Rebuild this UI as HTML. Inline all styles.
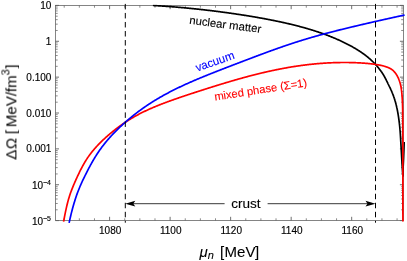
<!DOCTYPE html>
<html><head><meta charset="utf-8"><title>plot</title>
<style>
html,body{margin:0;padding:0;background:#fff;}
body{width:407px;height:261px;overflow:hidden;font-family:"Liberation Sans",sans-serif;}
svg{display:block;font-family:"Liberation Sans",sans-serif;}
</style></head><body>
<svg width="407" height="261" viewBox="0 0 407 261">
<rect width="407" height="261" fill="#fff"/>
<defs><clipPath id="c"><rect x="54.9" y="4.6000000000000005" width="350.70000000000005" height="218.79999999999998"/></clipPath></defs>
<rect x="55.4" y="5.4" width="348.1" height="215.2" fill="none" stroke="#666" stroke-width="0.8"/>
<path d="M55.4,5.40h3.6M403.5,5.40h-3.6M55.4,41.27h3.6M403.5,41.27h-3.6M55.4,77.13h3.6M403.5,77.13h-3.6M55.4,113.00h3.6M403.5,113.00h-3.6M55.4,148.87h3.6M403.5,148.87h-3.6M55.4,184.73h3.6M403.5,184.73h-3.6M55.4,220.60h3.6M403.5,220.60h-3.6M109.60,220.6v-3.8M109.60,5.4v3.8M170.12,220.6v-3.8M170.12,5.4v3.8M230.64,220.6v-3.8M230.64,5.4v3.8M291.16,220.6v-3.8M291.16,5.4v3.8M351.68,220.6v-3.8M351.68,5.4v3.8" fill="none" stroke="#606060" stroke-width="0.9"/>
<path d="M55.4,30.47h2.3M403.5,30.47h-2.3M55.4,24.15h2.3M403.5,24.15h-2.3M55.4,19.67h2.3M403.5,19.67h-2.3M55.4,16.20h2.3M403.5,16.20h-2.3M55.4,13.36h2.3M403.5,13.36h-2.3M55.4,10.96h2.3M403.5,10.96h-2.3M55.4,8.88h2.3M403.5,8.88h-2.3M55.4,7.04h2.3M403.5,7.04h-2.3M55.4,66.34h2.3M403.5,66.34h-2.3M55.4,60.02h2.3M403.5,60.02h-2.3M55.4,55.54h2.3M403.5,55.54h-2.3M55.4,52.06h2.3M403.5,52.06h-2.3M55.4,49.22h2.3M403.5,49.22h-2.3M55.4,46.82h2.3M403.5,46.82h-2.3M55.4,44.74h2.3M403.5,44.74h-2.3M55.4,42.91h2.3M403.5,42.91h-2.3M55.4,102.20h2.3M403.5,102.20h-2.3M55.4,95.89h2.3M403.5,95.89h-2.3M55.4,91.41h2.3M403.5,91.41h-2.3M55.4,87.93h2.3M403.5,87.93h-2.3M55.4,85.09h2.3M403.5,85.09h-2.3M55.4,82.69h2.3M403.5,82.69h-2.3M55.4,80.61h2.3M403.5,80.61h-2.3M55.4,78.77h2.3M403.5,78.77h-2.3M55.4,138.07h2.3M403.5,138.07h-2.3M55.4,131.75h2.3M403.5,131.75h-2.3M55.4,127.27h2.3M403.5,127.27h-2.3M55.4,123.80h2.3M403.5,123.80h-2.3M55.4,120.96h2.3M403.5,120.96h-2.3M55.4,118.56h2.3M403.5,118.56h-2.3M55.4,116.48h2.3M403.5,116.48h-2.3M55.4,114.64h2.3M403.5,114.64h-2.3M55.4,173.94h2.3M403.5,173.94h-2.3M55.4,167.62h2.3M403.5,167.62h-2.3M55.4,163.14h2.3M403.5,163.14h-2.3M55.4,159.66h2.3M403.5,159.66h-2.3M55.4,156.82h2.3M403.5,156.82h-2.3M55.4,154.42h2.3M403.5,154.42h-2.3M55.4,152.34h2.3M403.5,152.34h-2.3M55.4,150.51h2.3M403.5,150.51h-2.3M55.4,209.80h2.3M403.5,209.80h-2.3M55.4,203.49h2.3M403.5,203.49h-2.3M55.4,199.01h2.3M403.5,199.01h-2.3M55.4,195.53h2.3M403.5,195.53h-2.3M55.4,192.69h2.3M403.5,192.69h-2.3M55.4,190.29h2.3M403.5,190.29h-2.3M55.4,188.21h2.3M403.5,188.21h-2.3M55.4,186.37h2.3M403.5,186.37h-2.3M64.21,220.6v-2.3M64.21,5.4v2.3M79.34,220.6v-2.3M79.34,5.4v2.3M94.47,220.6v-2.3M94.47,5.4v2.3M124.73,220.6v-2.3M124.73,5.4v2.3M139.86,220.6v-2.3M139.86,5.4v2.3M154.99,220.6v-2.3M154.99,5.4v2.3M185.25,220.6v-2.3M185.25,5.4v2.3M200.38,220.6v-2.3M200.38,5.4v2.3M215.51,220.6v-2.3M215.51,5.4v2.3M245.77,220.6v-2.3M245.77,5.4v2.3M260.90,220.6v-2.3M260.90,5.4v2.3M276.03,220.6v-2.3M276.03,5.4v2.3M306.29,220.6v-2.3M306.29,5.4v2.3M321.42,220.6v-2.3M321.42,5.4v2.3M336.55,220.6v-2.3M336.55,5.4v2.3M366.81,220.6v-2.3M366.81,5.4v2.3M381.94,220.6v-2.3M381.94,5.4v2.3M397.07,220.6v-2.3M397.07,5.4v2.3" fill="none" stroke="#666" stroke-width="0.75"/>
<g clip-path="url(#c)" fill="none" stroke-width="1.7" stroke-linejoin="round" stroke-linecap="butt">
<path d="M152.90,5.46 L153.40,5.49 L153.90,5.52 L154.40,5.55 L154.90,5.58 L155.40,5.61 L155.90,5.64 L156.40,5.67 L156.90,5.70 L157.40,5.73 L157.90,5.76 L158.40,5.79 L158.90,5.82 L159.40,5.85 L159.90,5.88 L160.40,5.92 L160.90,5.95 L161.40,5.98 L161.90,6.02 L162.40,6.05 L162.90,6.08 L163.40,6.12 L163.90,6.15 L164.40,6.19 L164.90,6.22 L165.40,6.26 L165.90,6.29 L166.40,6.33 L166.90,6.36 L167.40,6.40 L167.90,6.44 L168.40,6.48 L168.90,6.51 L169.40,6.55 L169.90,6.59 L170.40,6.63 L170.90,6.66 L171.40,6.70 L171.90,6.74 L172.40,6.78 L172.90,6.82 L173.40,6.86 L173.90,6.90 L174.40,6.94 L174.90,6.98 L175.40,7.02 L175.90,7.06 L176.40,7.11 L176.90,7.15 L177.40,7.19 L177.90,7.23 L178.40,7.28 L178.90,7.32 L179.40,7.36 L179.90,7.41 L180.40,7.45 L180.90,7.49 L181.40,7.54 L181.90,7.58 L182.40,7.63 L182.90,7.67 L183.40,7.72 L183.90,7.76 L184.40,7.81 L184.90,7.86 L185.40,7.90 L185.90,7.95 L186.40,8.00 L186.90,8.04 L187.40,8.09 L187.90,8.14 L188.40,8.19 L188.90,8.24 L189.40,8.29 L189.90,8.34 L190.40,8.38 L190.90,8.43 L191.40,8.48 L191.90,8.53 L192.40,8.59 L192.90,8.64 L193.40,8.69 L193.90,8.74 L194.40,8.79 L194.90,8.84 L195.40,8.89 L195.90,8.95 L196.40,9.00 L196.90,9.05 L197.40,9.11 L197.90,9.16 L198.40,9.21 L198.90,9.27 L199.40,9.32 L199.90,9.38 L200.40,9.43 L200.90,9.49 L201.40,9.54 L201.90,9.60 L202.40,9.65 L202.90,9.71 L203.40,9.76 L203.90,9.82 L204.40,9.88 L204.90,9.94 L205.40,9.99 L205.90,10.05 L206.40,10.11 L206.90,10.17 L207.40,10.23 L207.90,10.28 L208.40,10.34 L208.90,10.40 L209.40,10.46 L209.90,10.52 L210.40,10.58 L210.90,10.64 L211.40,10.70 L211.90,10.76 L212.40,10.82 L212.90,10.89 L213.40,10.95 L213.90,11.01 L214.40,11.07 L214.90,11.13 L215.40,11.20 L215.90,11.26 L216.40,11.32 L216.90,11.39 L217.40,11.45 L217.90,11.51 L218.40,11.58 L218.90,11.64 L219.40,11.71 L219.90,11.77 L220.40,11.84 L220.90,11.90 L221.40,11.97 L221.90,12.04 L222.40,12.10 L222.90,12.17 L223.40,12.24 L223.90,12.30 L224.40,12.37 L224.90,12.44 L225.40,12.51 L225.90,12.57 L226.40,12.64 L226.90,12.71 L227.40,12.78 L227.90,12.85 L228.40,12.92 L228.90,12.99 L229.40,13.06 L229.90,13.13 L230.40,13.20 L230.90,13.27 L231.40,13.34 L231.90,13.41 L232.40,13.48 L232.90,13.56 L233.40,13.63 L233.90,13.70 L234.40,13.77 L234.90,13.85 L235.40,13.92 L235.90,13.99 L236.40,14.07 L236.90,14.14 L237.40,14.22 L237.90,14.29 L238.40,14.37 L238.90,14.44 L239.40,14.52 L239.90,14.59 L240.40,14.67 L240.90,14.75 L241.40,14.82 L241.90,14.90 L242.40,14.98 L242.90,15.06 L243.40,15.13 L243.90,15.21 L244.40,15.29 L244.90,15.37 L245.40,15.45 L245.90,15.53 L246.40,15.61 L246.90,15.69 L247.40,15.77 L247.90,15.85 L248.40,15.93 L248.90,16.01 L249.40,16.10 L249.90,16.18 L250.40,16.26 L250.90,16.34 L251.40,16.43 L251.90,16.51 L252.40,16.59 L252.90,16.68 L253.40,16.76 L253.90,16.85 L254.40,16.93 L254.90,17.02 L255.40,17.10 L255.90,17.19 L256.40,17.28 L256.90,17.36 L257.40,17.45 L257.90,17.54 L258.40,17.63 L258.90,17.72 L259.40,17.80 L259.90,17.89 L260.40,17.98 L260.90,18.07 L261.40,18.16 L261.90,18.25 L262.40,18.35 L262.90,18.44 L263.40,18.53 L263.90,18.62 L264.40,18.71 L264.90,18.81 L265.40,18.90 L265.90,18.99 L266.40,19.09 L266.90,19.18 L267.40,19.28 L267.90,19.37 L268.40,19.47 L268.90,19.57 L269.40,19.66 L269.90,19.76 L270.40,19.86 L270.90,19.96 L271.40,20.05 L271.90,20.15 L272.40,20.25 L272.90,20.35 L273.40,20.45 L273.90,20.55 L274.40,20.65 L274.90,20.76 L275.40,20.86 L275.90,20.96 L276.40,21.06 L276.90,21.17 L277.40,21.27 L277.90,21.38 L278.40,21.48 L278.90,21.59 L279.40,21.69 L279.90,21.80 L280.40,21.91 L280.90,22.02 L281.40,22.12 L281.90,22.23 L282.40,22.34 L282.90,22.45 L283.40,22.56 L283.90,22.67 L284.40,22.79 L284.90,22.90 L285.40,23.01 L285.90,23.12 L286.40,23.24 L286.90,23.35 L287.40,23.47 L287.90,23.58 L288.40,23.70 L288.90,23.82 L289.40,23.94 L289.90,24.05 L290.40,24.17 L290.90,24.29 L291.40,24.41 L291.90,24.53 L292.40,24.66 L292.90,24.78 L293.40,24.90 L293.90,25.02 L294.40,25.15 L294.90,25.27 L295.40,25.40 L295.90,25.53 L296.40,25.65 L296.90,25.78 L297.40,25.91 L297.90,26.04 L298.40,26.17 L298.90,26.30 L299.40,26.43 L299.90,26.56 L300.40,26.70 L300.90,26.83 L301.40,26.97 L301.90,27.10 L302.40,27.24 L302.90,27.38 L303.40,27.51 L303.90,27.65 L304.40,27.79 L304.90,27.93 L305.40,28.08 L305.90,28.22 L306.40,28.36 L306.90,28.51 L307.40,28.65 L307.90,28.80 L308.40,28.95 L308.90,29.09 L309.40,29.24 L309.90,29.39 L310.40,29.54 L310.90,29.70 L311.40,29.85 L311.90,30.00 L312.40,30.16 L312.90,30.31 L313.40,30.47 L313.90,30.63 L314.40,30.79 L314.90,30.95 L315.40,31.11 L315.90,31.27 L316.40,31.44 L316.90,31.60 L317.40,31.77 L317.90,31.93 L318.40,32.10 L318.90,32.27 L319.40,32.44 L319.90,32.61 L320.40,32.79 L320.90,32.96 L321.40,33.13 L321.90,33.31 L322.40,33.49 L322.90,33.67 L323.40,33.85 L323.90,34.03 L324.40,34.21 L324.90,34.39 L325.40,34.58 L325.90,34.76 L326.40,34.95 L326.90,35.14 L327.40,35.33 L327.90,35.52 L328.40,35.71 L328.90,35.91 L329.40,36.10 L329.90,36.30 L330.40,36.50 L330.90,36.70 L331.40,36.90 L331.90,37.10 L332.40,37.30 L332.90,37.51 L333.40,37.72 L333.90,37.92 L334.40,38.13 L334.90,38.34 L335.40,38.56 L335.90,38.77 L336.40,38.99 L336.90,39.20 L337.40,39.42 L337.90,39.64 L338.40,39.87 L338.90,40.09 L339.40,40.31 L339.90,40.54 L340.40,40.77 L340.90,41.00 L341.40,41.23 L341.90,41.47 L342.40,41.70 L342.90,41.94 L343.40,42.18 L343.90,42.42 L344.40,42.66 L344.90,42.91 L345.40,43.16 L345.90,43.40 L346.40,43.66 L346.90,43.91 L347.40,44.17 L347.90,44.42 L348.40,44.68 L348.90,44.94 L349.40,45.21 L349.90,45.47 L350.40,45.75 L350.90,46.02 L351.40,46.29 L351.90,46.57 L352.40,46.85 L352.90,47.13 L353.40,47.41 L353.90,47.70 L354.40,47.99 L354.90,48.28 L355.40,48.58 L355.90,48.88 L356.40,49.18 L356.90,49.48 L357.40,49.79 L357.90,50.10 L358.40,50.42 L358.90,50.74 L359.40,51.06 L359.90,51.39 L360.40,51.72 L360.90,52.05 L361.40,52.40 L361.90,52.74 L362.40,53.09 L362.90,53.44 L363.40,53.80 L363.90,54.15 L364.40,54.52 L364.90,54.89 L365.40,55.27 L365.90,55.65 L366.40,56.05 L366.90,56.44 L367.40,56.84 L367.90,57.25 L368.40,57.67 L368.90,58.08 L369.40,58.52 L369.90,58.95 L370.40,59.40 L370.90,59.84 L371.40,60.31 L371.90,60.77 L372.40,61.26 L372.90,61.74 L373.40,62.24 L373.90,62.74 L374.40,63.27 L374.90,63.79 L375.40,64.34 L375.90,64.88 L376.40,65.45 L376.90,66.02 L377.40,66.62 L377.90,67.22 L378.40,67.84 L378.90,68.47 L379.25,68.91 L379.50,69.23 L379.74,69.54 L379.99,69.86 L380.24,70.17 L380.48,70.49 L380.72,70.81 L380.96,71.13 L381.19,71.46 L381.43,71.78 L381.66,72.11 L381.89,72.43 L382.11,72.76 L382.33,73.10 L382.55,73.43 L382.77,73.77 L382.98,74.11 L383.19,74.45 L383.40,74.79 L383.60,75.13 L383.80,75.47 L384.00,75.82 L384.20,76.17 L384.40,76.52 L384.59,76.87 L384.78,77.22 L384.97,77.57 L385.16,77.93 L385.35,78.28 L385.53,78.64 L385.71,78.99 L385.90,79.35 L386.08,79.71 L386.26,80.06 L386.44,80.42 L386.62,80.78 L386.79,81.14 L386.97,81.50 L387.15,81.86 L387.32,82.22 L387.50,82.58 L387.68,82.94 L387.85,83.30 L388.03,83.66 L388.20,84.02 L388.38,84.38 L388.56,84.74 L388.73,85.10 L388.91,85.46 L389.08,85.82 L389.26,86.18 L389.43,86.54 L389.61,86.90 L389.78,87.26 L389.95,87.62 L390.12,87.98 L390.29,88.35 L390.46,88.71 L390.63,89.07 L390.80,89.43 L390.96,89.80 L391.13,90.16 L391.29,90.53 L391.45,90.89 L391.61,91.26 L391.77,91.63 L391.93,91.99 L392.08,92.36 L392.24,92.73 L392.39,93.10 L392.54,93.47 L392.68,93.85 L392.83,94.22 L392.98,94.59 L393.12,94.97 L393.26,95.34 L393.40,95.72 L393.54,96.09 L393.67,96.47 L393.81,96.85 L393.94,97.22 L394.07,97.60 L394.20,97.98 L394.32,98.36 L394.45,98.74 L394.57,99.12 L394.69,99.50 L394.81,99.89 L394.92,100.27 L395.04,100.65 L395.15,101.04 L395.26,101.42 L395.37,101.80 L395.48,102.19 L395.59,102.58 L395.69,102.96 L395.80,103.35 L395.90,103.74 L396.00,104.12 L396.10,104.51 L396.19,104.90 L396.29,105.29 L396.38,105.68 L396.47,106.07 L396.56,106.46 L396.65,106.85 L396.74,107.24 L396.83,107.63 L396.91,108.02 L397.00,108.41 L397.08,108.80 L397.16,109.19 L397.24,109.58 L397.32,109.98 L397.40,110.37 L397.47,110.76 L397.55,111.16 L397.62,111.55 L397.69,111.94 L397.76,112.34 L397.83,112.73 L397.90,113.12 L397.97,113.52 L398.04,113.91 L398.10,114.31 L398.17,114.70 L398.23,115.10 L398.29,115.49 L398.36,115.89 L398.42,116.28 L398.48,116.68 L398.54,117.07 L398.60,117.47 L398.65,117.87 L398.71,118.26 L398.77,118.66 L398.82,119.05 L398.88,119.45 L398.93,119.85 L398.98,120.24 L399.03,120.64 L399.08,121.04 L399.13,121.43 L399.18,121.83 L399.23,122.23 L399.28,122.63 L399.33,123.02 L399.37,123.42 L399.42,123.82 L399.46,124.22 L399.51,124.61 L399.55,125.01 L399.59,125.41 L399.64,125.81 L399.68,126.20 L399.72,126.60 L399.75,127.00 L399.79,127.40 L399.83,127.80 L399.87,128.20 L399.90,128.59 L399.94,128.99 L399.97,129.39 L400.01,129.79 L400.04,130.19 L400.07,130.59 L400.10,130.99 L400.14,131.38 L400.17,131.78 L400.20,132.18 L400.22,132.58 L400.25,132.98 L400.28,133.38 L400.31,133.78 L400.33,134.18 L400.36,134.58 L400.39,134.98 L400.41,135.37 L400.44,135.77 L400.46,136.17 L400.49,136.57 L400.51,136.97 L400.54,137.37 L400.56,137.77 L400.58,138.17 L400.61,138.57 L400.63,138.97 L400.65,139.37 L400.67,139.77 L400.70,140.17 L400.72,140.57 L400.74,140.97 L400.76,141.36 L400.79,141.76 L400.81,142.16 L400.83,142.56 L400.85,142.96 L400.88,143.36 L400.90,143.76 L400.92,144.16 L400.95,144.56 L400.97,144.96 L400.99,145.36 L401.01,145.76 L401.04,146.16 L401.06,146.56 L401.08,146.96 L401.11,147.36 L401.13,147.75 L401.15,148.15 L401.17,148.55 L401.20,148.95 L401.22,149.35 L401.24,149.75 L401.27,150.15 L401.29,150.55 L401.31,150.95 L401.33,151.35 L401.36,151.75 L401.38,152.15 L401.40,152.55 L401.43,152.95 L401.45,153.35 L401.47,153.74 L401.49,154.14 L401.52,154.54 L401.54,154.94 L401.56,155.34 L401.59,155.74 L401.61,156.14 L401.63,156.54 L401.65,156.94 L401.68,157.34 L401.70,157.74 L401.72,158.14 L401.74,158.54 L401.77,158.94 L401.79,159.34 L401.81,159.73 L401.83,160.13 L401.86,160.53 L401.88,160.93 L401.90,161.33 L401.92,161.73 L401.95,162.13 L401.97,162.53 L401.99,162.93 L402.02,163.33 L402.04,163.73 L402.06,164.13 L402.09,164.53 L402.11,164.93 L402.14,165.33 L402.16,165.72 L402.18,166.12 L402.21,166.52 L402.23,166.92 L402.26,167.32 L402.28,167.72 L402.31,168.12 L402.33,168.52 L402.36,168.92 L402.38,169.32 L402.41,169.72 L402.44,170.12 L402.46,170.52 L402.49,170.91 L402.52,171.31 L402.55,171.71 L402.57,172.11 L402.60,172.51 L402.63,172.91 L402.66,173.31 L402.69,173.71 L402.72,174.11 L402.75,174.51 L402.78,174.90 L402.81,175.30 L402.84,175.70 L402.87,176.10 L402.90,176.50" stroke="#000"/>
<path d="M402.9,176.5 L403.3,168 L403.8,158 L404.2,148 L404.4,142" stroke="#000" stroke-width="1.3"/>
<path d="M63.58,221.65 L64.08,219.00 L64.58,216.35 L65.08,213.88 L65.58,211.40 L66.08,209.12 L66.58,206.85 L67.08,204.78 L67.58,202.72 L68.08,200.88 L68.58,199.04 L69.08,197.40 L69.58,195.76 L70.08,194.29 L70.58,192.81 L71.08,191.46 L71.58,190.11 L72.08,188.84 L72.58,187.58 L73.08,186.37 L73.58,185.16 L74.08,183.99 L74.58,182.82 L75.08,181.69 L75.58,180.55 L76.08,179.45 L76.58,178.34 L77.08,177.25 L77.58,176.17 L78.08,175.11 L78.58,174.05 L79.08,173.02 L79.58,171.99 L80.08,170.98 L80.58,169.98 L81.08,169.01 L81.58,168.03 L82.08,167.10 L82.58,166.16 L83.08,165.25 L83.58,164.35 L84.08,163.48 L84.58,162.62 L85.08,161.78 L85.58,160.95 L86.08,160.16 L86.58,159.36 L87.08,158.60 L87.58,157.84 L88.08,157.12 L88.58,156.39 L89.08,155.69 L89.58,154.99 L90.08,154.32 L90.58,153.65 L91.08,153.01 L91.58,152.37 L92.08,151.75 L92.58,151.12 L93.08,150.52 L93.58,149.92 L94.08,149.34 L94.58,148.76 L95.08,148.19 L95.58,147.63 L96.08,147.08 L96.58,146.53 L97.08,145.99 L97.58,145.46 L98.08,144.93 L98.58,144.41 L99.08,143.90 L99.58,143.39 L100.08,142.88 L100.58,142.38 L101.08,141.89 L101.58,141.40 L102.08,140.92 L102.58,140.44 L103.08,139.96 L103.58,139.49 L104.08,139.02 L104.58,138.56 L105.08,138.10 L105.58,137.64 L106.08,137.20 L106.58,136.75 L107.08,136.30 L107.58,135.86 L108.08,135.43 L108.58,134.99 L109.08,134.56 L109.58,134.13 L110.08,133.71 L110.58,133.29 L111.08,132.87 L111.58,132.46 L112.08,132.05 L112.58,131.64 L113.08,131.24 L113.58,130.83 L114.08,130.44 L114.58,130.04 L115.08,129.65 L115.58,129.26 L116.08,128.88 L116.58,128.49 L117.08,128.11 L117.58,127.73 L118.08,127.36 L118.58,126.99 L119.08,126.62 L119.58,126.25 L120.08,125.89 L120.58,125.53 L121.08,125.18 L121.58,124.82 L122.08,124.47 L122.58,124.12 L123.08,123.78 L123.58,123.43 L124.08,123.10 L124.58,122.76 L125.08,122.42 L125.58,122.09 L126.08,121.76 L126.58,121.44 L127.08,121.11 L127.58,120.79 L128.08,120.48 L128.58,120.16 L129.08,119.85 L129.58,119.54 L130.08,119.23 L130.58,118.92 L131.08,118.62 L131.58,118.32 L132.08,118.03 L132.58,117.73 L133.08,117.44 L133.58,117.15 L134.08,116.86 L134.58,116.58 L135.08,116.30 L135.58,116.01 L136.08,115.74 L136.58,115.46 L137.08,115.19 L137.58,114.92 L138.08,114.65 L138.58,114.38 L139.08,114.12 L139.58,113.86 L140.08,113.60 L140.58,113.34 L141.08,113.09 L141.58,112.83 L142.08,112.58 L142.58,112.33 L143.08,112.09 L143.58,111.84 L144.08,111.60 L144.58,111.36 L145.08,111.12 L145.58,110.88 L146.08,110.65 L146.58,110.41 L147.08,110.18 L147.58,109.95 L148.08,109.72 L148.58,109.49 L149.08,109.27 L149.58,109.04 L150.08,108.82 L150.58,108.60 L151.08,108.38 L151.58,108.16 L152.08,107.95 L152.58,107.73 L153.08,107.52 L153.58,107.31 L154.08,107.10 L154.58,106.89 L155.08,106.68 L155.58,106.47 L156.08,106.27 L156.58,106.06 L157.08,105.86 L157.58,105.66 L158.08,105.46 L158.58,105.26 L159.08,105.06 L159.58,104.86 L160.08,104.66 L160.58,104.47 L161.08,104.27 L161.58,104.08 L162.08,103.88 L162.58,103.69 L163.08,103.50 L163.58,103.31 L164.08,103.12 L164.58,102.93 L165.08,102.74 L165.58,102.56 L166.08,102.37 L166.58,102.19 L167.08,102.00 L167.58,101.82 L168.08,101.63 L168.58,101.45 L169.08,101.27 L169.58,101.09 L170.08,100.91 L170.58,100.73 L171.08,100.55 L171.58,100.37 L172.08,100.19 L172.58,100.01 L173.08,99.83 L173.58,99.66 L174.08,99.48 L174.58,99.31 L175.08,99.13 L175.58,98.96 L176.08,98.78 L176.58,98.61 L177.08,98.43 L177.58,98.26 L178.08,98.09 L178.58,97.92 L179.08,97.75 L179.58,97.57 L180.08,97.40 L180.58,97.23 L181.08,97.06 L181.58,96.89 L182.08,96.72 L182.58,96.55 L183.08,96.39 L183.58,96.22 L184.08,96.05 L184.58,95.88 L185.08,95.71 L185.58,95.55 L186.08,95.38 L186.58,95.21 L187.08,95.05 L187.58,94.88 L188.08,94.72 L188.58,94.55 L189.08,94.38 L189.58,94.22 L190.08,94.05 L190.58,93.89 L191.08,93.73 L191.58,93.56 L192.08,93.40 L192.58,93.23 L193.08,93.07 L193.58,92.91 L194.08,92.74 L194.58,92.58 L195.08,92.42 L195.58,92.26 L196.08,92.09 L196.58,91.93 L197.08,91.77 L197.58,91.61 L198.08,91.44 L198.58,91.28 L199.08,91.12 L199.58,90.96 L200.08,90.80 L200.58,90.64 L201.08,90.48 L201.58,90.32 L202.08,90.16 L202.58,90.00 L203.08,89.84 L203.58,89.68 L204.08,89.52 L204.58,89.36 L205.08,89.20 L205.58,89.04 L206.08,88.88 L206.58,88.72 L207.08,88.56 L207.58,88.40 L208.08,88.25 L208.58,88.09 L209.08,87.93 L209.58,87.77 L210.08,87.61 L210.58,87.46 L211.08,87.30 L211.58,87.14 L212.08,86.99 L212.58,86.83 L213.08,86.67 L213.58,86.52 L214.08,86.36 L214.58,86.20 L215.08,86.05 L215.58,85.89 L216.08,85.74 L216.58,85.58 L217.08,85.43 L217.58,85.27 L218.08,85.12 L218.58,84.96 L219.08,84.81 L219.58,84.66 L220.08,84.50 L220.58,84.35 L221.08,84.20 L221.58,84.04 L222.08,83.89 L222.58,83.74 L223.08,83.59 L223.58,83.44 L224.08,83.28 L224.58,83.13 L225.08,82.98 L225.58,82.83 L226.08,82.68 L226.58,82.53 L227.08,82.38 L227.58,82.23 L228.08,82.09 L228.58,81.94 L229.08,81.79 L229.58,81.64 L230.08,81.49 L230.58,81.35 L231.08,81.20 L231.58,81.05 L232.08,80.91 L232.58,80.76 L233.08,80.61 L233.58,80.47 L234.08,80.32 L234.58,80.18 L235.08,80.04 L235.58,79.89 L236.08,79.75 L236.58,79.61 L237.08,79.46 L237.58,79.32 L238.08,79.18 L238.58,79.04 L239.08,78.90 L239.58,78.76 L240.08,78.62 L240.58,78.48 L241.08,78.34 L241.58,78.20 L242.08,78.06 L242.58,77.92 L243.08,77.79 L243.58,77.65 L244.08,77.51 L244.58,77.38 L245.08,77.24 L245.58,77.10 L246.08,76.97 L246.58,76.83 L247.08,76.70 L247.58,76.57 L248.08,76.43 L248.58,76.30 L249.08,76.17 L249.58,76.04 L250.08,75.91 L250.58,75.78 L251.08,75.65 L251.58,75.52 L252.08,75.39 L252.58,75.26 L253.08,75.13 L253.58,75.00 L254.08,74.87 L254.58,74.75 L255.08,74.62 L255.58,74.49 L256.08,74.37 L256.58,74.24 L257.08,74.12 L257.58,74.00 L258.08,73.87 L258.58,73.75 L259.08,73.63 L259.58,73.51 L260.08,73.39 L260.58,73.26 L261.08,73.14 L261.58,73.03 L262.08,72.91 L262.58,72.79 L263.08,72.67 L263.58,72.55 L264.08,72.44 L264.58,72.32 L265.08,72.20 L265.58,72.09 L266.08,71.97 L266.58,71.86 L267.08,71.75 L267.58,71.63 L268.08,71.52 L268.58,71.41 L269.08,71.30 L269.58,71.19 L270.08,71.08 L270.58,70.97 L271.08,70.86 L271.58,70.75 L272.08,70.64 L272.58,70.54 L273.08,70.43 L273.58,70.32 L274.08,70.22 L274.58,70.11 L275.08,70.01 L275.58,69.91 L276.08,69.81 L276.58,69.70 L277.08,69.60 L277.58,69.50 L278.08,69.40 L278.58,69.30 L279.08,69.20 L279.58,69.10 L280.08,69.01 L280.58,68.91 L281.08,68.81 L281.58,68.72 L282.08,68.62 L282.58,68.53 L283.08,68.43 L283.58,68.34 L284.08,68.25 L284.58,68.16 L285.08,68.07 L285.58,67.97 L286.08,67.89 L286.58,67.80 L287.08,67.71 L287.58,67.62 L288.08,67.53 L288.58,67.45 L289.08,67.36 L289.58,67.28 L290.08,67.19 L290.58,67.11 L291.08,67.02 L291.58,66.94 L292.08,66.86 L292.58,66.78 L293.08,66.70 L293.58,66.62 L294.08,66.54 L294.58,66.46 L295.08,66.39 L295.58,66.31 L296.08,66.23 L296.58,66.16 L297.08,66.08 L297.58,66.01 L298.08,65.94 L298.58,65.87 L299.08,65.79 L299.58,65.72 L300.08,65.65 L300.58,65.58 L301.08,65.52 L301.58,65.45 L302.08,65.38 L302.58,65.31 L303.08,65.25 L303.58,65.18 L304.08,65.12 L304.58,65.06 L305.08,64.99 L305.58,64.93 L306.08,64.87 L306.58,64.81 L307.08,64.75 L307.58,64.69 L308.08,64.63 L308.58,64.58 L309.08,64.52 L309.58,64.46 L310.08,64.41 L310.58,64.35 L311.08,64.30 L311.58,64.25 L312.08,64.20 L312.58,64.14 L313.08,64.09 L313.58,64.04 L314.08,63.99 L314.58,63.95 L315.08,63.90 L315.58,63.85 L316.08,63.81 L316.58,63.76 L317.08,63.72 L317.58,63.67 L318.08,63.63 L318.58,63.59 L319.08,63.55 L319.58,63.51 L320.08,63.47 L320.58,63.43 L321.08,63.39 L321.58,63.35 L322.08,63.32 L322.58,63.28 L323.08,63.25 L323.58,63.21 L324.08,63.18 L324.58,63.15 L325.08,63.11 L325.58,63.08 L326.08,63.05 L326.58,63.02 L327.08,62.99 L327.58,62.97 L328.08,62.94 L328.58,62.91 L329.08,62.89 L329.58,62.86 L330.08,62.84 L330.58,62.82 L331.08,62.79 L331.58,62.77 L332.08,62.75 L332.58,62.73 L333.08,62.71 L333.58,62.69 L334.08,62.68 L334.58,62.66 L335.08,62.64 L335.58,62.63 L336.08,62.62 L336.58,62.60 L337.08,62.59 L337.58,62.58 L338.08,62.57 L338.58,62.56 L339.08,62.55 L339.58,62.54 L340.08,62.53 L340.58,62.52 L341.08,62.52 L341.58,62.51 L342.08,62.51 L342.58,62.50 L343.08,62.50 L343.58,62.50 L344.08,62.50 L344.58,62.50 L345.08,62.50 L345.58,62.50 L346.08,62.50 L346.58,62.50 L347.08,62.51 L347.58,62.51 L348.08,62.52 L348.58,62.52 L349.08,62.53 L349.58,62.54 L350.08,62.55 L350.58,62.56 L351.08,62.57 L351.58,62.58 L352.08,62.59 L352.58,62.61 L353.08,62.62 L353.58,62.64 L354.08,62.65 L354.58,62.67 L355.08,62.69 L355.58,62.71 L356.08,62.73 L356.58,62.75 L357.08,62.77 L357.58,62.79 L358.08,62.82 L358.58,62.84 L359.08,62.87 L359.58,62.89 L360.08,62.92 L360.58,62.95 L361.08,62.98 L361.58,63.01 L362.08,63.04 L362.58,63.07 L363.08,63.11 L363.58,63.14 L364.08,63.18 L364.58,63.22 L365.08,63.26 L365.58,63.30 L366.08,63.34 L366.58,63.38 L367.08,63.43 L367.58,63.47 L368.08,63.52 L368.58,63.56 L369.08,63.61 L369.58,63.66 L370.08,63.72 L370.58,63.77 L371.08,63.83 L371.58,63.88 L372.08,63.95 L372.58,64.01 L373.08,64.07 L373.58,64.13 L374.08,64.20 L374.58,64.27 L375.08,64.34 L375.58,64.41 L376.08,64.49 L376.58,64.57 L377.08,64.65 L377.58,64.73 L378.08,64.82 L378.58,64.91 L379.08,65.01 L379.58,65.10 L380.08,65.20 L380.58,65.30 L381.08,65.41 L381.58,65.52 L382.08,65.64 L382.58,65.76 L383.08,65.89 L383.58,66.02 L384.38,66.24 L384.77,66.36 L385.15,66.47 L385.53,66.59 L385.91,66.72 L386.29,66.85 L386.67,66.98 L387.05,67.12 L387.42,67.26 L387.79,67.41 L388.16,67.56 L388.53,67.71 L388.90,67.88 L389.26,68.04 L389.63,68.22 L389.98,68.40 L390.34,68.59 L390.69,68.79 L391.03,68.99 L391.37,69.20 L391.70,69.43 L392.02,69.66 L392.34,69.91 L392.65,70.16 L392.95,70.42 L393.25,70.69 L393.54,70.97 L393.82,71.26 L394.10,71.55 L394.37,71.85 L394.63,72.15 L394.89,72.46 L395.14,72.77 L395.38,73.09 L395.62,73.41 L395.86,73.74 L396.09,74.07 L396.31,74.40 L396.53,74.74 L396.74,75.08 L396.94,75.42 L397.14,75.77 L397.34,76.12 L397.53,76.47 L397.72,76.82 L397.89,77.18 L398.07,77.54 L398.24,77.90 L398.40,78.27 L398.56,78.63 L398.72,79.00 L398.87,79.38 L399.01,79.75 L399.16,80.12 L399.29,80.50 L399.43,80.88 L399.55,81.26 L399.68,81.64 L399.80,82.02 L399.91,82.40 L400.02,82.79 L400.13,83.17 L400.24,83.56 L400.34,83.95 L400.43,84.34 L400.53,84.73 L400.62,85.12 L400.70,85.51 L400.79,85.90 L400.86,86.29 L400.94,86.68 L401.01,87.08 L401.08,87.47 L401.15,87.87 L401.22,88.26 L401.28,88.66 L401.34,89.05 L401.39,89.45 L401.45,89.84 L401.50,90.24 L401.55,90.64 L401.60,91.03 L401.64,91.43 L401.69,91.83 L401.73,92.23 L401.77,92.63 L401.81,93.02 L401.85,93.42 L401.88,93.82 L401.92,94.22 L401.95,94.62 L401.99,95.02 L402.02,95.42 L402.05,95.81 L402.08,96.21 L402.11,96.61 L402.14,97.01 L402.17,97.41 L402.19,97.81 L402.22,98.21 L402.24,98.61 L402.27,99.01 L402.29,99.41 L402.31,99.81 L402.33,100.21 L402.35,100.61 L402.37,101.01 L402.39,101.40 L402.41,101.80 L402.43,102.20 L402.45,102.60 L402.46,103.00 L402.48,103.40 L402.49,103.80 L402.51,104.20 L402.52,104.60 L402.53,105.00 L402.55,105.40 L402.56,105.80 L402.57,106.20 L402.58,106.60 L402.59,107.00 L402.60,107.40 L402.61,107.80 L402.62,108.20 L402.63,108.60 L402.64,109.00 L402.65,109.40 L402.65,109.80 L402.66,110.20 L402.67,110.60 L402.67,111.00 L402.68,111.40 L402.68,111.80 L402.69,112.20 L402.69,112.60 L402.70,113.00 L402.70,113.40 L402.71,113.80 L402.71,114.20 L402.72,114.60 L402.72,115.00 L402.72,115.40 L402.73,115.80 L402.73,116.20 L402.73,116.60 L402.73,117.00 L402.74,117.40 L402.74,117.80 L402.74,118.20 L402.74,118.60 L402.75,119.00 L402.75,119.40 L402.75,119.80 L402.75,120.20 L402.75,120.60 L402.75,121.00 L402.76,121.40 L402.76,121.80 L402.76,122.20 L402.76,122.60 L402.76,123.00 L402.77,123.40 L402.77,123.80 L402.77,124.20 L402.77,124.60 L402.77,125.00 L402.77,125.40 L402.78,125.80 L402.78,126.20 L402.78,126.60 L402.78,127.00 L402.78,127.40 L402.78,127.80 L402.78,128.20 L402.79,128.60 L402.79,129.00 L402.79,129.40 L402.79,129.80 L402.79,130.20 L402.79,130.60 L402.79,131.00 L402.80,131.40 L402.80,131.80 L402.80,132.20 L402.80,132.60 L402.80,133.00 L402.80,133.40 L402.80,133.80 L402.80,134.20 L402.81,134.60 L402.81,135.00 L402.81,135.40 L402.81,135.80 L402.81,136.20 L402.81,136.60 L402.81,137.00 L402.81,137.40 L402.81,137.80 L402.82,138.20 L402.82,138.60 L402.82,139.00 L402.82,139.40 L402.82,139.80 L402.82,140.20 L402.82,140.60 L402.82,141.00 L402.82,141.40 L402.82,141.80 L402.82,142.20 L402.83,142.60 L402.83,143.00 L402.83,143.40 L402.83,143.80 L402.83,144.20 L402.83,144.60 L402.83,145.00 L402.83,145.40 L402.83,145.80 L402.83,146.20 L402.83,146.60 L402.83,147.00 L402.83,147.40 L402.84,147.80 L402.84,148.20 L402.84,148.60 L402.84,149.00 L402.84,149.40 L402.84,149.80 L402.84,150.20 L402.84,150.60 L402.84,151.00 L402.84,151.40 L402.84,151.80 L402.84,152.20 L402.84,152.60 L402.84,153.00 L402.84,153.40 L402.84,153.80 L402.84,154.20 L402.84,154.60 L402.85,155.00 L402.85,155.40 L402.85,155.80 L402.85,156.20 L402.85,156.60 L402.85,157.00 L402.85,157.40 L402.85,157.80 L402.85,158.20 L402.85,158.60 L402.85,159.00 L402.85,159.40 L402.85,159.80 L402.85,160.20 L402.85,160.60 L402.85,161.00 L402.85,161.40 L402.85,161.80 L402.85,162.20 L402.85,162.60 L402.85,163.00 L402.85,163.40 L402.85,163.80 L402.85,164.20 L402.85,164.60 L402.85,165.00 L402.85,165.40 L402.85,165.80 L402.85,166.20 L402.85,166.60 L402.85,167.00 L402.85,167.40 L402.86,167.80 L402.86,168.20 L402.86,168.60 L402.86,169.00 L402.86,169.40 L402.86,169.80 L402.86,170.20 L402.86,170.60 L402.86,171.00 L402.86,171.40 L402.86,171.80 L402.86,172.20 L402.86,172.60 L402.86,173.00 L402.86,173.40 L402.86,173.80 L402.86,174.20 L402.86,174.60 L402.86,175.00 L402.86,175.40 L402.86,175.80 L402.86,176.20 L402.86,176.60 L402.86,177.00 L402.86,177.40 L402.86,177.80 L402.86,178.20 L402.86,178.60 L402.86,179.00 L402.86,179.40 L402.86,179.80 L402.86,180.20 L402.86,180.60 L402.86,181.00 L402.86,181.40 L402.86,181.80 L402.86,182.20 L402.86,182.60 L402.86,183.00 L402.86,183.40 L402.86,183.80 L402.86,184.20 L402.86,184.60 L402.86,185.00 L402.86,185.40 L402.86,185.80 L402.86,186.20 L402.86,186.60 L402.86,187.00 L402.86,187.40 L402.86,187.80 L402.86,188.20 L402.86,188.60 L402.86,189.00 L402.86,189.40 L402.86,189.80 L402.86,190.20 L402.86,190.60 L402.86,191.00 L402.86,191.40 L402.86,191.80 L402.86,192.20 L402.86,192.60 L402.86,193.00 L402.86,193.40 L402.86,193.80 L402.86,194.20 L402.87,194.60 L402.87,195.00 L402.87,195.40 L402.87,195.80 L402.87,196.20 L402.87,196.60 L402.87,197.00 L402.87,197.40 L402.87,197.80 L402.87,198.20 L402.87,198.60 L402.87,199.00 L402.87,199.40 L402.87,199.80 L402.87,200.20 L402.87,200.60 L402.87,201.00 L402.87,201.40 L402.87,201.80 L402.87,202.20 L402.87,202.60 L402.87,203.00 L402.87,203.40 L402.87,203.80 L402.87,204.20 L402.87,204.60 L402.87,205.00 L402.87,205.40 L402.87,205.80 L402.87,206.20 L402.87,206.60 L402.88,207.00 L402.88,207.40 L402.88,207.80 L402.88,208.20 L402.88,208.60 L402.88,209.00 L402.88,209.40 L402.88,209.80 L402.88,210.20 L402.88,210.60 L402.88,211.00 L402.88,211.40 L402.88,211.80 L402.88,212.20 L402.88,212.60 L402.88,213.00 L402.88,213.40 L402.88,213.80 L402.89,214.20 L402.89,214.60 L402.89,215.00 L402.89,215.40 L402.89,215.80 L402.89,216.20 L402.89,216.60 L402.89,217.00 L402.89,217.40 L402.89,217.80 L402.89,218.20 L402.89,218.60 L402.89,219.00 L402.90,219.40 L402.90,219.80 L402.90,220.20 L402.90,220.60 L402.90,221.00 L402.90,221.40" stroke="#ff0000"/>
<path d="M69.10,222.89 L69.60,220.64 L70.10,218.38 L70.60,216.27 L71.10,214.15 L71.60,212.16 L72.10,210.17 L72.60,208.32 L73.10,206.46 L73.60,204.73 L74.10,203.00 L74.60,201.38 L75.10,199.76 L75.60,198.25 L76.10,196.73 L76.60,195.31 L77.10,193.89 L77.60,192.56 L78.10,191.22 L78.60,189.95 L79.10,188.69 L79.60,187.48 L80.10,186.28 L80.60,185.13 L81.10,183.98 L81.60,182.87 L82.10,181.76 L82.60,180.69 L83.10,179.62 L83.60,178.58 L84.10,177.54 L84.60,176.52 L85.10,175.50 L85.60,174.51 L86.10,173.51 L86.60,172.53 L87.10,171.55 L87.60,170.58 L88.10,169.62 L88.60,168.67 L89.10,167.72 L89.60,166.79 L90.10,165.87 L90.60,164.95 L91.10,164.04 L91.60,163.15 L92.10,162.26 L92.60,161.39 L93.10,160.53 L93.60,159.68 L94.10,158.83 L94.60,158.01 L95.10,157.18 L95.60,156.38 L96.10,155.58 L96.60,154.80 L97.10,154.02 L97.60,153.27 L98.10,152.51 L98.60,151.77 L99.10,151.04 L99.60,150.32 L100.10,149.61 L100.60,148.91 L101.10,148.21 L101.60,147.54 L102.10,146.86 L102.60,146.20 L103.10,145.54 L103.60,144.90 L104.10,144.25 L104.60,143.63 L105.10,143.00 L105.60,142.39 L106.10,141.78 L106.60,141.18 L107.10,140.58 L107.60,139.99 L108.10,139.41 L108.60,138.84 L109.10,138.26 L109.60,137.70 L110.10,137.14 L110.60,136.59 L111.10,136.04 L111.60,135.50 L112.10,134.96 L112.60,134.43 L113.10,133.90 L113.60,133.38 L114.10,132.86 L114.60,132.35 L115.10,131.84 L115.60,131.33 L116.10,130.83 L116.60,130.33 L117.10,129.84 L117.60,129.35 L118.10,128.86 L118.60,128.38 L119.10,127.90 L119.60,127.42 L120.10,126.95 L120.60,126.48 L121.10,126.01 L121.60,125.55 L122.10,125.09 L122.60,124.63 L123.10,124.18 L123.60,123.73 L124.10,123.28 L124.60,122.83 L125.10,122.39 L125.60,121.95 L126.10,121.51 L126.60,121.08 L127.10,120.65 L127.60,120.22 L128.10,119.79 L128.60,119.37 L129.10,118.95 L129.60,118.53 L130.10,118.11 L130.60,117.70 L131.10,117.29 L131.60,116.88 L132.10,116.47 L132.60,116.07 L133.10,115.67 L133.60,115.27 L134.10,114.88 L134.60,114.48 L135.10,114.09 L135.60,113.70 L136.10,113.32 L136.60,112.94 L137.10,112.55 L137.60,112.17 L138.10,111.80 L138.60,111.42 L139.10,111.05 L139.60,110.68 L140.10,110.31 L140.60,109.95 L141.10,109.59 L141.60,109.23 L142.10,108.87 L142.60,108.51 L143.10,108.16 L143.60,107.81 L144.10,107.46 L144.60,107.11 L145.10,106.76 L145.60,106.42 L146.10,106.08 L146.60,105.74 L147.10,105.40 L147.60,105.07 L148.10,104.74 L148.60,104.41 L149.10,104.08 L149.60,103.75 L150.10,103.42 L150.60,103.10 L151.10,102.78 L151.60,102.46 L152.10,102.14 L152.60,101.83 L153.10,101.52 L153.60,101.21 L154.10,100.90 L154.60,100.59 L155.10,100.28 L155.60,99.98 L156.10,99.67 L156.60,99.37 L157.10,99.07 L157.60,98.78 L158.10,98.48 L158.60,98.19 L159.10,97.90 L159.60,97.61 L160.10,97.32 L160.60,97.03 L161.10,96.74 L161.60,96.46 L162.10,96.18 L162.60,95.90 L163.10,95.61 L163.60,95.34 L164.10,95.06 L164.60,94.79 L165.10,94.51 L165.60,94.24 L166.10,93.97 L166.60,93.70 L167.10,93.43 L167.60,93.16 L168.10,92.90 L168.60,92.63 L169.10,92.37 L169.60,92.11 L170.10,91.85 L170.60,91.59 L171.10,91.33 L171.60,91.07 L172.10,90.82 L172.60,90.56 L173.10,90.31 L173.60,90.06 L174.10,89.81 L174.60,89.56 L175.10,89.31 L175.60,89.06 L176.10,88.82 L176.60,88.57 L177.10,88.33 L177.60,88.08 L178.10,87.84 L178.60,87.60 L179.10,87.36 L179.60,87.12 L180.10,86.88 L180.60,86.65 L181.10,86.41 L181.60,86.18 L182.10,85.94 L182.60,85.71 L183.10,85.48 L183.60,85.25 L184.10,85.02 L184.60,84.79 L185.10,84.56 L185.60,84.33 L186.10,84.10 L186.60,83.88 L187.10,83.65 L187.60,83.43 L188.10,83.20 L188.60,82.98 L189.10,82.76 L189.60,82.54 L190.10,82.32 L190.60,82.10 L191.10,81.88 L191.60,81.66 L192.10,81.44 L192.60,81.23 L193.10,81.01 L193.60,80.79 L194.10,80.58 L194.60,80.37 L195.10,80.15 L195.60,79.94 L196.10,79.73 L196.60,79.51 L197.10,79.30 L197.60,79.09 L198.10,78.88 L198.60,78.67 L199.10,78.46 L199.60,78.26 L200.10,78.05 L200.60,77.84 L201.10,77.63 L201.60,77.43 L202.10,77.22 L202.60,77.01 L203.10,76.81 L203.60,76.60 L204.10,76.40 L204.60,76.20 L205.10,75.99 L205.60,75.79 L206.10,75.59 L206.60,75.39 L207.10,75.18 L207.60,74.98 L208.10,74.78 L208.60,74.58 L209.10,74.38 L209.60,74.18 L210.10,73.98 L210.60,73.78 L211.10,73.58 L211.60,73.38 L212.10,73.18 L212.60,72.99 L213.10,72.79 L213.60,72.59 L214.10,72.39 L214.60,72.20 L215.10,72.00 L215.60,71.80 L216.10,71.60 L216.60,71.41 L217.10,71.21 L217.60,71.02 L218.10,70.82 L218.60,70.63 L219.10,70.43 L219.60,70.24 L220.10,70.04 L220.60,69.85 L221.10,69.65 L221.60,69.46 L222.10,69.26 L222.60,69.07 L223.10,68.88 L223.60,68.68 L224.10,68.49 L224.60,68.29 L225.10,68.10 L225.60,67.91 L226.10,67.72 L226.60,67.52 L227.10,67.33 L227.60,67.14 L228.10,66.94 L228.60,66.75 L229.10,66.56 L229.60,66.37 L230.10,66.18 L230.60,65.98 L231.10,65.79 L231.60,65.60 L232.10,65.41 L232.60,65.22 L233.10,65.02 L233.60,64.83 L234.10,64.64 L234.60,64.45 L235.10,64.26 L235.60,64.07 L236.10,63.88 L236.60,63.68 L237.10,63.49 L237.60,63.30 L238.10,63.11 L238.60,62.92 L239.10,62.73 L239.60,62.54 L240.10,62.35 L240.60,62.16 L241.10,61.97 L241.60,61.78 L242.10,61.59 L242.60,61.40 L243.10,61.21 L243.60,61.02 L244.10,60.82 L244.60,60.63 L245.10,60.44 L245.60,60.25 L246.10,60.07 L246.60,59.88 L247.10,59.69 L247.60,59.50 L248.10,59.31 L248.60,59.12 L249.10,58.93 L249.60,58.74 L250.10,58.55 L250.60,58.36 L251.10,58.17 L251.60,57.98 L252.10,57.79 L252.60,57.60 L253.10,57.42 L253.60,57.23 L254.10,57.04 L254.60,56.85 L255.10,56.66 L255.60,56.48 L256.10,56.29 L256.60,56.10 L257.10,55.91 L257.60,55.73 L258.10,55.54 L258.60,55.35 L259.10,55.16 L259.60,54.98 L260.10,54.79 L260.60,54.60 L261.10,54.42 L261.60,54.23 L262.10,54.05 L262.60,53.86 L263.10,53.68 L263.60,53.49 L264.10,53.31 L264.60,53.12 L265.10,52.94 L265.60,52.75 L266.10,52.57 L266.60,52.38 L267.10,52.20 L267.60,52.02 L268.10,51.83 L268.60,51.65 L269.10,51.47 L269.60,51.29 L270.10,51.10 L270.60,50.92 L271.10,50.74 L271.60,50.56 L272.10,50.38 L272.60,50.20 L273.10,50.02 L273.60,49.84 L274.10,49.66 L274.60,49.48 L275.10,49.30 L275.60,49.12 L276.10,48.94 L276.60,48.77 L277.10,48.59 L277.60,48.41 L278.10,48.24 L278.60,48.06 L279.10,47.88 L279.60,47.71 L280.10,47.53 L280.60,47.36 L281.10,47.18 L281.60,47.01 L282.10,46.84 L282.60,46.66 L283.10,46.49 L283.60,46.32 L284.10,46.14 L284.60,45.97 L285.10,45.80 L285.60,45.63 L286.10,45.46 L286.60,45.29 L287.10,45.12 L287.60,44.95 L288.10,44.78 L288.60,44.62 L289.10,44.45 L289.60,44.28 L290.10,44.12 L290.60,43.95 L291.10,43.78 L291.60,43.62 L292.10,43.45 L292.60,43.29 L293.10,43.13 L293.60,42.96 L294.10,42.80 L294.60,42.64 L295.10,42.48 L295.60,42.31 L296.10,42.15 L296.60,41.99 L297.10,41.83 L297.60,41.67 L298.10,41.52 L298.60,41.36 L299.10,41.20 L299.60,41.04 L300.10,40.89 L300.60,40.73 L301.10,40.57 L301.60,40.42 L302.10,40.26 L302.60,40.11 L303.10,39.96 L303.60,39.80 L304.10,39.65 L304.60,39.50 L305.10,39.35 L305.60,39.19 L306.10,39.04 L306.60,38.89 L307.10,38.74 L307.60,38.60 L308.10,38.45 L308.60,38.30 L309.10,38.15 L309.60,38.00 L310.10,37.86 L310.60,37.71 L311.10,37.56 L311.60,37.42 L312.10,37.27 L312.60,37.13 L313.10,36.99 L313.60,36.84 L314.10,36.70 L314.60,36.56 L315.10,36.42 L315.60,36.28 L316.10,36.13 L316.60,35.99 L317.10,35.85 L317.60,35.71 L318.10,35.57 L318.60,35.44 L319.10,35.30 L319.60,35.16 L320.10,35.02 L320.60,34.89 L321.10,34.75 L321.60,34.61 L322.10,34.48 L322.60,34.34 L323.10,34.21 L323.60,34.07 L324.10,33.94 L324.60,33.80 L325.10,33.67 L325.60,33.54 L326.10,33.41 L326.60,33.27 L327.10,33.14 L327.60,33.01 L328.10,32.88 L328.60,32.75 L329.10,32.62 L329.60,32.49 L330.10,32.36 L330.60,32.23 L331.10,32.10 L331.60,31.97 L332.10,31.84 L332.60,31.71 L333.10,31.59 L333.60,31.46 L334.10,31.33 L334.60,31.20 L335.10,31.08 L335.60,30.95 L336.10,30.82 L336.60,30.70 L337.10,30.57 L337.60,30.45 L338.10,30.32 L338.60,30.20 L339.10,30.07 L339.60,29.95 L340.10,29.82 L340.60,29.70 L341.10,29.58 L341.60,29.45 L342.10,29.33 L342.60,29.21 L343.10,29.09 L343.60,28.96 L344.10,28.84 L344.60,28.72 L345.10,28.60 L345.60,28.48 L346.10,28.35 L346.60,28.23 L347.10,28.11 L347.60,27.99 L348.10,27.87 L348.60,27.75 L349.10,27.63 L349.60,27.51 L350.10,27.39 L350.60,27.27 L351.10,27.15 L351.60,27.03 L352.10,26.91 L352.60,26.79 L353.10,26.67 L353.60,26.55 L354.10,26.43 L354.60,26.32 L355.10,26.20 L355.60,26.08 L356.10,25.96 L356.60,25.84 L357.10,25.72 L357.60,25.61 L358.10,25.49 L358.60,25.37 L359.10,25.25 L359.60,25.14 L360.10,25.02 L360.60,24.90 L361.10,24.79 L361.60,24.67 L362.10,24.55 L362.60,24.44 L363.10,24.32 L363.60,24.20 L364.10,24.09 L364.60,23.97 L365.10,23.86 L365.60,23.74 L366.10,23.62 L366.60,23.51 L367.10,23.39 L367.60,23.28 L368.10,23.16 L368.60,23.05 L369.10,22.93 L369.60,22.82 L370.10,22.70 L370.60,22.59 L371.10,22.47 L371.60,22.36 L372.10,22.24 L372.60,22.13 L373.10,22.01 L373.60,21.90 L374.10,21.79 L374.60,21.67 L375.10,21.56 L375.60,21.44 L376.10,21.33 L376.60,21.22 L377.10,21.10 L377.60,20.99 L378.10,20.88 L378.60,20.76 L379.10,20.65 L379.60,20.54 L380.10,20.42 L380.60,20.31 L381.10,20.20 L381.60,20.09 L382.10,19.97 L382.60,19.86 L383.10,19.75 L383.60,19.64 L384.10,19.52 L384.60,19.41 L385.10,19.30 L385.60,19.19 L386.10,19.08 L386.60,18.96 L387.10,18.85 L387.60,18.74 L388.10,18.63 L388.60,18.52 L389.10,18.41 L389.60,18.30 L390.10,18.18 L390.60,18.07 L391.10,17.96 L391.60,17.85 L392.10,17.74 L392.60,17.63 L393.10,17.52 L393.60,17.41 L394.10,17.30 L394.60,17.19 L395.10,17.08 L395.60,16.97 L396.10,16.86 L396.60,16.75 L397.10,16.64 L397.60,16.53 L398.10,16.42 L398.60,16.31 L399.10,16.20 L399.60,16.09 L400.10,15.98 L400.60,15.87 L401.10,15.76 L401.60,15.65 L402.10,15.54 L402.60,15.43 L403.10,15.32 L403.60,15.22 L404.10,15.11 L404.60,15.00" stroke="#0000ff"/>
</g>
<g fill="none" stroke="#000" stroke-width="1" stroke-dasharray="5.5 3.54">
<path d="M125.3,3.9V222.7"/><path d="M375.5,3.9V222.7"/>
</g>
<g font-size="10" fill="#000" stroke="#000" stroke-width="0.15" style="will-change:transform"><text x="51.4" y="8.95" text-anchor="end">10</text><text x="51.4" y="44.82" text-anchor="end">1</text><text x="51.4" y="80.68" text-anchor="end">0.100</text><text x="51.4" y="116.55" text-anchor="end">0.010</text><text x="51.4" y="152.42" text-anchor="end">0.001</text><text x="51.0" y="188.63" text-anchor="end">10<tspan dy="-3.6" font-size="7">−4</tspan></text><text x="51.0" y="224.50" text-anchor="end">10<tspan dy="-3.6" font-size="7">−5</tspan></text><text x="110.20" y="234.3" text-anchor="middle">1080</text><text x="170.72" y="234.3" text-anchor="middle">1100</text><text x="231.24" y="234.3" text-anchor="middle">1120</text><text x="291.76" y="234.3" text-anchor="middle">1140</text><text x="352.28" y="234.3" text-anchor="middle">1160</text></g>
<!-- crust arrows -->
<g stroke="#222" stroke-width="0.9" fill="none"><path d="M133,203.7H224.6M267.6,203.7H368"/></g>
<path d="M125.3,203.7l10,-2.9l-2,2.9l2,2.9z" fill="#000"/>
<path d="M375.5,203.7l-10,-2.9l2,2.9l-2,2.9z" fill="#000"/>
<g style="will-change:transform"><text x="245.8" y="208.1" font-size="13.5" text-anchor="middle" fill="#000" stroke="#000" stroke-width="0.12">crust</text>
<text transform="translate(189.0,23.8) rotate(7.2)" font-size="11.3" fill="#000" stroke="#000" stroke-width="0.12">nuclear matter</text>
<text transform="translate(197.2,71.7) rotate(-19.4)" font-size="11.5" fill="#0000ff" stroke="#0000ff" stroke-width="0.12">vacuum</text>
<text transform="translate(214.9,100.6) rotate(-8.9)" font-size="11.2" fill="#ff0000" stroke="#ff0000" stroke-width="0.12">mixed phase (Σ=1)</text>
<text transform="translate(16.4,159.6) rotate(-90)" font-size="15" fill="#000"><tspan x="0">Δ</tspan><tspan x="10.5">Ω</tspan><tspan x="25.6">[</tspan><tspan x="32.6">MeV/fm</tspan><tspan dy="-7.3" font-size="11">3</tspan><tspan dy="7.3" dx="0.6">]</tspan></text>
<text x="199.5" y="256.5" font-size="15" fill="#000" stroke="#000" stroke-width="0.1"><tspan font-style="italic">μ</tspan><tspan font-style="italic" font-size="11" dy="2.4">n</tspan><tspan dy="-2.4" x="220.0">[</tspan><tspan x="224.6">MeV</tspan><tspan x="255.0">]</tspan></text></g>
</svg>
</body></html>
